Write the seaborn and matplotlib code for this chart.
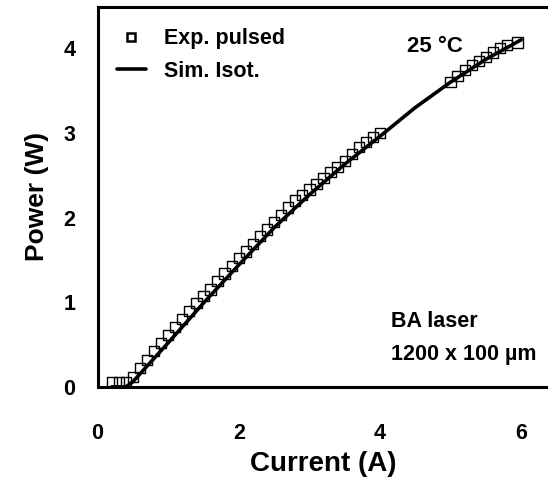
import matplotlib
matplotlib.use("Agg")
import matplotlib.pyplot as plt
from matplotlib.lines import Line2D
import seaborn as sns
import pandas as pd

# Experimental (pulsed) data: current (A), power (W)
exp_current = [0.2, 0.3, 0.4, 0.5, 0.6, 0.7, 0.8, 0.9, 1.0, 1.1, 1.2, 1.3, 1.4,
               1.5, 1.6, 1.7, 1.8, 1.9, 2.0, 2.1, 2.2, 2.3, 2.4, 2.5, 2.6, 2.7,
               2.8, 2.9, 3.0, 3.1, 3.2, 3.3, 3.4, 3.5, 3.6, 3.7, 3.8, 3.9, 4.0,
               5.0, 5.1, 5.2, 5.3, 5.4, 5.5, 5.6, 5.7, 5.8, 5.95]
exp_power = [0.05, 0.05, 0.06, 0.12, 0.22, 0.32, 0.42, 0.52, 0.61, 0.71, 0.80,
             0.90, 0.99, 1.07, 1.15, 1.25, 1.34, 1.43, 1.52, 1.60, 1.69, 1.78,
             1.86, 1.95, 2.03, 2.12, 2.20, 2.27, 2.33, 2.40, 2.47, 2.54, 2.60,
             2.67, 2.75, 2.83, 2.89, 2.95, 3.00,
             3.60, 3.67, 3.74, 3.80, 3.85, 3.90, 3.95, 4.00, 4.04, 4.07]

# Isothermal simulation
sim_current = [0.2, 0.4, 0.5, 1.0, 1.5, 2.0, 2.5, 3.0, 3.5, 4.0, 4.5, 5.0, 5.5, 6.0]
sim_power = [0.0, 0.0, 0.06, 0.52, 0.99, 1.44, 1.88, 2.27, 2.63, 2.96, 3.30,
             3.60, 3.87, 4.10]

x_ticks = [0, 2, 4, 6]
y_ticks = [0, 1, 2, 3, 4]

sns.set_theme(style="white")
plt.rcParams["font.family"] = ["Liberation Sans", "DejaVu Sans"]
plt.rcParams["font.weight"] = "bold"
plt.rcParams["text.color"] = "black"
plt.rcParams["axes.labelcolor"] = "black"
plt.rcParams["xtick.color"] = "black"
plt.rcParams["ytick.color"] = "black"

exp_df = pd.DataFrame({"Current": exp_current, "Power": exp_power})
sim_df = pd.DataFrame({"Current": sim_current, "Power": sim_power})

fig = plt.figure(figsize=(5.48, 4.86), dpi=100)
ax = fig.add_axes([0.178, 0.204, 0.822, 0.782])

sns.lineplot(data=sim_df, x="Current", y="Power", ax=ax, color="black",
             linewidth=2.6, legend=False)
sns.scatterplot(data=exp_df, x="Current", y="Power", ax=ax, marker="s",
                s=55, facecolors="none", edgecolors="black", linewidths=1.0,
                legend=False, zorder=3)

ax.set_xlim(0, 6.38)
ax.set_ylim(0, 4.49)
ax.set_xticks(x_ticks)
ax.set_yticks(y_ticks)
ax.set_xticklabels([str(t) for t in x_ticks], fontsize=15.5, fontweight="bold")
ax.set_yticklabels([str(t) for t in y_ticks], fontsize=15.5, fontweight="bold")
ax.tick_params(axis="x", direction="in", length=7, width=1.2, pad=26, colors="black")
ax.tick_params(axis="y", direction="in", length=7, width=1.2, pad=16, colors="black")

for side in ["left", "bottom", "top"]:
    ax.spines[side].set_visible(True)
    ax.spines[side].set_color("black")
    ax.spines[side].set_linewidth(2.2)
ax.spines["right"].set_visible(False)

ax.set_xlabel("Current (A)", fontsize=20, fontweight="bold", labelpad=5)
ax.set_ylabel("Power (W)", fontsize=19, fontweight="bold", labelpad=10)

handles = [
    Line2D([], [], marker="s", linestyle="none", markersize=6,
           markerfacecolor="none", markeredgecolor="black", markeredgewidth=1.8),
    Line2D([], [], color="black", linewidth=2.6),
]
ax.legend(handles, ["Exp. pulsed", "Sim. Isot."], loc="upper left",
          bbox_to_anchor=(0.0, 0.995), frameon=False, handlelength=1.35,
          handletextpad=0.85, labelspacing=0.55,
          prop={"size": 15.5, "weight": "bold"})

ax.text(4.38, 4.02, "25 °C", fontsize=16, fontweight="bold", ha="left",
        va="center")
ax.text(4.15, 0.77, "BA laser", fontsize=15.5, fontweight="bold", ha="left",
        va="center")
ax.text(4.15, 0.38, "1200 x 100 µm", fontsize=15.5, fontweight="bold",
        ha="left", va="center")

fig.savefig("out.png", dpi=100)
